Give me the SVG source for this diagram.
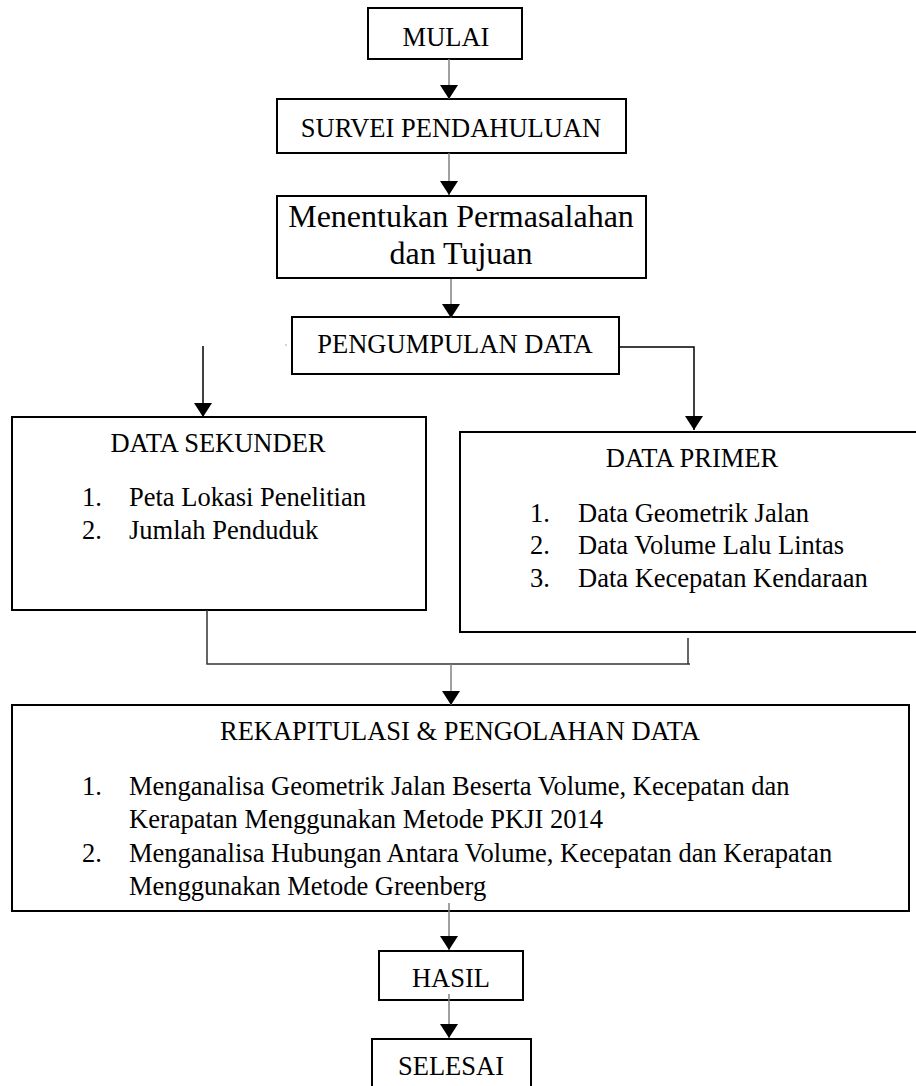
<svg xmlns="http://www.w3.org/2000/svg" width="916" height="1086" viewBox="0 0 916 1086">
<style>
  .box { fill: #fff; stroke: #000; stroke-width: 2; }
  .t { font-family: "Liberation Serif", "Times New Roman", serif; font-size: 26.5px; fill: #000; }
  .c { text-anchor: middle; }
  .arrow { stroke: #808080; stroke-width: 1.5; fill: none; marker-end: url(#ah); }
  .branch { stroke: #000; stroke-width: 1.5; fill: none; }
  .join { stroke: #333; stroke-width: 1.5; fill: none; }
</style>
<defs>
  <marker id="ah" viewBox="0 0 14 18" refX="14" refY="9" markerWidth="14" markerHeight="18" markerUnits="userSpaceOnUse" orient="auto">
    <path d="M0,0 L14,9 L0,18 z" fill="#000"/>
  </marker>
</defs>
<rect width="916" height="1086" fill="#fff"/>

<g id="mulai">
  <rect class="box" x="368" y="8" width="154" height="51"/>
  <text class="t c" x="446" y="46">MULAI</text>
</g>
<g id="survei">
  <rect class="box" x="277" y="99" width="349" height="54"/>
  <text class="t c" x="451" y="137">SURVEI PENDAHULUAN</text>
</g>
<g id="menentukan">
  <rect class="box" x="277" y="196" width="369" height="82"/>
  <text class="t c" x="461" y="227" style="font-size:32px">Menentukan Permasalahan</text>
  <text class="t c" x="461" y="264" style="font-size:32px">dan Tujuan</text>
</g>
<g id="pengumpulan">
  <rect class="box" x="292" y="317" width="327" height="57"/>
  <text class="t c" x="455" y="353">PENGUMPULAN DATA</text>
</g>
<g id="sekunder">
  <rect class="box" x="12" y="417" width="414" height="193"/>
  <text class="t c" x="218" y="452">DATA SEKUNDER</text>
  <text class="t" x="82" y="506">1.</text>
  <text class="t" x="129" y="506">Peta Lokasi Penelitian</text>
  <text class="t" x="82" y="539">2.</text>
  <text class="t" x="129" y="539">Jumlah Penduduk</text>
</g>
<g id="primer">
  <rect class="box" x="460" y="432" width="480" height="200"/>
  <text class="t c" x="692" y="467">DATA PRIMER</text>
  <text class="t" x="530" y="522">1.</text>
  <text class="t" x="578" y="522">Data Geometrik Jalan</text>
  <text class="t" x="530" y="554">2.</text>
  <text class="t" x="578" y="554">Data Volume Lalu Lintas</text>
  <text class="t" x="530" y="587">3.</text>
  <text class="t" x="578" y="587">Data Kecepatan Kendaraan</text>
</g>
<g id="rekap">
  <rect class="box" x="12" y="705" width="897" height="206"/>
  <text class="t c" x="460" y="740">REKAPITULASI &amp; PENGOLAHAN DATA</text>
  <text class="t" x="82" y="795">1.</text>
  <text class="t" x="129" y="795">Menganalisa Geometrik Jalan Beserta Volume, Kecepatan dan</text>
  <text class="t" x="129" y="828">Kerapatan Menggunakan Metode PKJI 2014</text>
  <text class="t" x="82" y="862">2.</text>
  <text class="t" x="129" y="862">Menganalisa Hubungan Antara Volume, Kecepatan dan Kerapatan</text>
  <text class="t" x="129" y="895">Menggunakan Metode Greenberg</text>
</g>
<g id="hasil">
  <rect class="box" x="379" y="951" width="144" height="49"/>
  <text class="t c" x="451" y="987">HASIL</text>
</g>
<g id="selesai">
  <rect class="box" x="372" y="1039" width="159" height="60"/>
  <text class="t c" x="451" y="1075">SELESAI</text>
</g>

<g id="connectors">
  <line class="arrow" x1="449" y1="59" x2="449" y2="99"/>
  <line class="arrow" x1="449" y1="153" x2="449" y2="195"/>
  <line class="arrow" x1="451" y1="279" x2="451" y2="318"/>
  <line class="branch" x1="203" y1="346" x2="203" y2="417" marker-end="url(#ah)"/>
  <rect x="285.5" y="344.5" width="1" height="1" fill="#555"/>
  <path class="branch" d="M619,347 H694 V430" marker-end="url(#ah)"/>
  <path class="join" d="M207,610 V664 H690"/>
  <path class="join" d="M688,638 V664"/>
  <line class="arrow" x1="451" y1="664" x2="451" y2="705"/>
  <line class="arrow" x1="449" y1="903" x2="449" y2="950"/>
  <line class="arrow" x1="449" y1="994" x2="449" y2="1038"/>
</g>
</svg>
